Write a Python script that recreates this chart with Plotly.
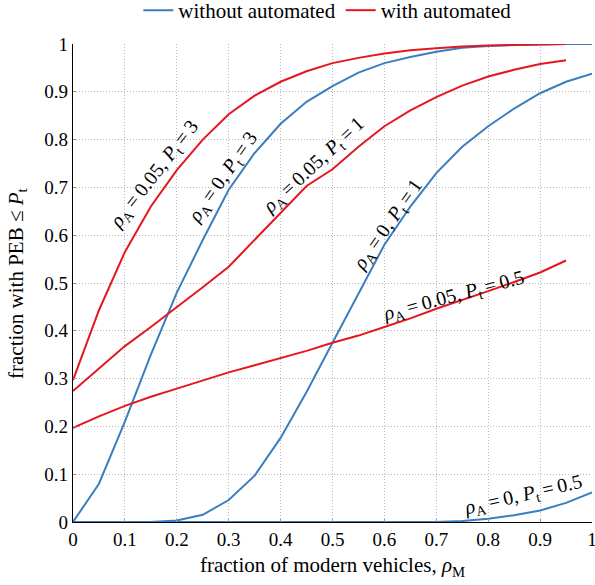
import plotly.graph_objects as go

x_blue = [0, 0.05, 0.1, 0.15, 0.2, 0.25, 0.3, 0.35, 0.4, 0.45, 0.5, 0.55, 0.6, 0.65, 0.7, 0.75, 0.8, 0.85, 0.9, 0.95, 1.0]
x_red = [0, 0.05, 0.1, 0.15, 0.2, 0.25, 0.3, 0.35, 0.4, 0.45, 0.5, 0.55, 0.6, 0.65, 0.7, 0.75, 0.8, 0.85, 0.9, 0.95]

blue_pt3 = [0, 0.08, 0.21, 0.35, 0.48, 0.59, 0.695, 0.772, 0.833, 0.879, 0.912, 0.94, 0.96, 0.973, 0.984, 0.992, 0.996, 0.998, 0.999, 1.0, 1.0]
blue_pt1 = [0, 0, 0, 0, 0.003, 0.015, 0.046, 0.097, 0.176, 0.272, 0.375, 0.478, 0.58, 0.66, 0.73, 0.785, 0.828, 0.865, 0.897, 0.921, 0.938]
blue_pt05 = [0, 0, 0, 0, 0, 0, 0, 0, 0, 0, 0, 0, 0, 0, 0, 0.002, 0.007, 0.014, 0.024, 0.04, 0.062]

red_pt3 = [0.297, 0.443, 0.565, 0.66, 0.736, 0.8, 0.853, 0.892, 0.921, 0.943, 0.96, 0.971, 0.98, 0.987, 0.991, 0.995, 0.997, 0.998, 0.999, 1.0]
red_pt1 = [0.274, 0.322, 0.368, 0.408, 0.449, 0.491, 0.534, 0.59, 0.647, 0.703, 0.738, 0.785, 0.828, 0.861, 0.889, 0.913, 0.932, 0.946, 0.958, 0.966]
red_pt05 = [0.197, 0.221, 0.243, 0.262, 0.279, 0.296, 0.313, 0.328, 0.343, 0.358, 0.375, 0.39, 0.408, 0.426, 0.446, 0.464, 0.483, 0.502, 0.522, 0.547]

ticks = [0, 0.1, 0.2, 0.3, 0.4, 0.5, 0.6, 0.7, 0.8, 0.9, 1.0]
tick_labels = ["0", "0.1", "0.2", "0.3", "0.4", "0.5", "0.6", "0.7", "0.8", "0.9", "1"]

EQ = "\u2009=\u2009"
labels = [
    ("<i>ρ</i><sub>A</sub>" + EQ + "0.05, <i>P</i><sub>t</sub>" + EQ + "3", 0.157, 0.728, -52),
    ("<i>ρ</i><sub>A</sub>" + EQ + "0, <i>P</i><sub>t</sub>" + EQ + "3", 0.29, 0.72, -55),
    ("<i>ρ</i><sub>A</sub>" + EQ + "0.05, <i>P</i><sub>t</sub>" + EQ + "1", 0.465, 0.745, -43),
    ("<i>ρ</i><sub>A</sub>" + EQ + "0, <i>P</i><sub>t</sub>" + EQ + "1", 0.607, 0.62, -55),
    ("<i>ρ</i><sub>A</sub>" + EQ + "0.05, <i>P</i><sub>t</sub>" + EQ + "0.5", 0.733, 0.472, -15),
    ("<i>ρ</i><sub>A</sub>" + EQ + "0, <i>P</i><sub>t</sub>" + EQ + "0.5", 0.868, 0.056, -13),
]

BLUE = "#3A7EC0"
RED = "#E6161E"
FONT = "Liberation Serif"

fig = go.Figure()
series = [
    (x_blue, blue_pt3, BLUE, "without automated", True),
    (x_blue, blue_pt1, BLUE, "without automated", False),
    (x_blue, blue_pt05, BLUE, "without automated", False),
    (x_red, red_pt3, RED, "with automated", True),
    (x_red, red_pt1, RED, "with automated", False),
    (x_red, red_pt05, RED, "with automated", False),
]
for xs, ys, col, name, show in series:
    fig.add_trace(go.Scatter(x=xs, y=ys, mode="lines", line=dict(color=col, width=2),
                             name=name, showlegend=show, legendgroup=name))

for txt, lx, ly, ang in labels:
    fig.add_annotation(x=lx, y=ly, xref="x", yref="y", text=txt, showarrow=False,
                       textangle=ang, font=dict(family=FONT, size=20, color="black"))

fig.add_annotation(xref="paper", yref="paper", x=-0.108, y=0.5, xanchor="center", yanchor="middle",
                   text="fraction with PEB ≤ <i>P</i><sub>t</sub>", showarrow=False, textangle=-90,
                   font=dict(family=FONT, size=21, color="black"))

axis_common = dict(
    range=[0, 1], tickvals=ticks, ticktext=tick_labels,
    showgrid=True, gridcolor="#b8b8b8", griddash="1px,2px", gridwidth=1,
    zeroline=False, showline=True, linecolor="black", linewidth=1.3,
    ticks="inside", ticklen=3, tickcolor="#999999",
    tickfont=dict(family=FONT, size=19, color="black"),
    automargin=False, ticklabeloverflow="allow",
)

fig.update_layout(
    width=595, height=585,
    margin=dict(l=73, r=3, t=44, b=63),
    paper_bgcolor="white", plot_bgcolor="white",
    font=dict(family=FONT, size=19, color="black"),
    xaxis=dict(**axis_common, title=dict(text="fraction of modern vehicles, <i>ρ</i><sub>M</sub>",
                                         font=dict(family=FONT, size=21), standoff=8)),
    yaxis=dict(**axis_common),
    legend=dict(orientation="h", x=0.49, xanchor="center", yref="container", y=0.982, yanchor="middle",
                font=dict(family=FONT, size=21), itemwidth=30, bgcolor="rgba(0,0,0,0)"),
)

fig.write_html("out.html", post_script="document.body.style.margin='0';",
               config={"displayModeBar": False})
